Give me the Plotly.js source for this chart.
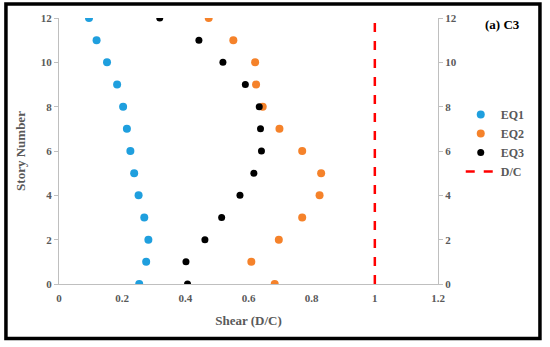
<!DOCTYPE html>
<html><head><meta charset="utf-8">
<script src="https://cdn.plot.ly/plotly-3.0.1.min.js"></script>
<style>html,body{margin:0;padding:0;background:#fff}#c{width:550px;height:347px}</style>
</head><body><div id="c"></div>
<script>
const stories = [12,11,10,9,8,7,6,5,4,3,2,1,0];
const eq1 = [0.095,0.119,0.152,0.184,0.203,0.215,0.226,0.238,0.252,0.270,0.283,0.276,0.254];
const eq2 = [0.474,0.552,0.621,0.624,0.645,0.698,0.770,0.830,0.825,0.770,0.696,0.609,0.683];
const eq3 = [0.319,0.443,0.519,0.590,0.634,0.638,0.641,0.617,0.573,0.515,0.462,0.402,0.407];
const dcX = [1,1];
const dcY = [0,12];
const xTicks = [0,0.2,0.4,0.6,0.8,1,1.2];
const yTicks = [0,2,4,6,8,10,12];

const F = '"Liberation Serif", "Times New Roman", serif';
const gray = '#595959';
const traces = [
  {x:eq1,y:stories,mode:'markers',name:'EQ1',marker:{color:'#1f9fde',size:8}},
  {x:eq2,y:stories,mode:'markers',name:'EQ2',marker:{color:'#f5822a',size:8}},
  {x:eq3,y:stories,mode:'markers',name:'EQ3',marker:{color:'#000000',size:7}},
  {x:dcX,y:dcY,mode:'lines',name:'D/C',line:{color:'#ff0000',width:2.5,dash:'dash'}},
  {x:dcX,y:dcY,mode:'lines',yaxis:'y2',showlegend:false,hoverinfo:'skip',line:{width:0},opacity:0}
];
const axFont = {family:F,size:11,color:gray,weight:'bold'};
const layout = {
  width:550,height:347,
  margin:{l:59,r:112,t:18,b:63},
  paper_bgcolor:'#fff',plot_bgcolor:'#fff',
  showlegend:true,
  xaxis:{range:[0,1.2],tickvals:xTicks,ticktext:xTicks.map(String),showgrid:false,zeroline:false,
    showline:true,linecolor:'#bfbfbf',linewidth:1,ticks:'outside',ticklen:4,tickcolor:'rgba(0,0,0,0)',tickfont:axFont,
    title:{text:'Shear (D/C)',font:{family:F,size:13,color:gray,weight:'bold'},standoff:12}},
  yaxis:{range:[0,12],tickvals:yTicks,showgrid:false,zeroline:false,showline:true,linecolor:'#bfbfbf',linewidth:1,
    ticks:'outside',ticklen:4,tickcolor:'#bfbfbf',tickfont:axFont,
    title:{text:'Story Number',font:{family:F,size:13,color:gray,weight:'bold'},standoff:12}},
  yaxis2:{range:[0,12],overlaying:'y',side:'right',tickvals:yTicks,showgrid:false,zeroline:false,showline:true,
    linecolor:'#bfbfbf',linewidth:1,ticks:'outside',ticklen:4,tickcolor:'#bfbfbf',tickfont:axFont},
  legend:{x:1.06,y:0.692,xanchor:'left',yanchor:'top',font:{family:F,size:12,color:gray,weight:'bold'},bgcolor:'rgba(0,0,0,0)'},
  annotations:[{text:'(a) C3',xref:'paper',yref:'paper',x:1.119,y:0.977,xanchor:'left',yanchor:'middle',showarrow:false,
    font:{family:F,size:13,color:'#000',weight:'bold'}}],
  shapes:[{type:'rect',xref:'paper',yref:'paper',x0:-0.14,x1:1.269,y0:-0.205,y1:1.053,line:{color:'#000',width:3.5}}]
};
Plotly.newPlot('c',traces,layout,{staticPlot:true,displayModeBar:false});
</script></body></html>
